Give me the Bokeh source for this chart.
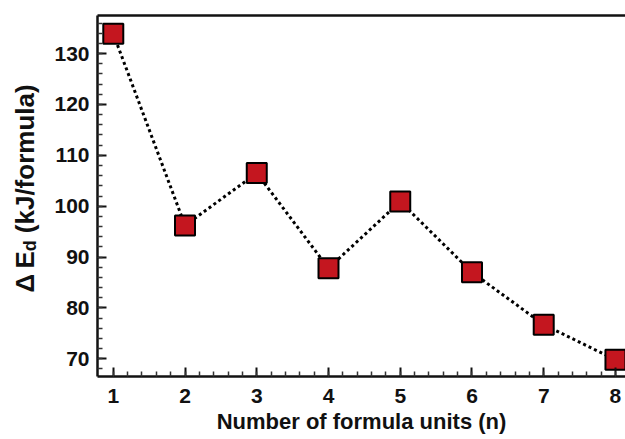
import math
from bokeh.plotting import figure
from bokeh.layouts import row
from bokeh.models import LinearAxis, FixedTicker, Range1d, Label
from bokeh.embed import file_html
from bokeh.resources import INLINE

# data
n_units = [1, 2, 3, 4, 5, 6, 7, 8]
delta_e = [133.9, 96.2, 106.5, 87.8, 100.9, 87.0, 76.7, 69.8]
x_ticks = [1, 2, 3, 4, 5, 6, 7, 8]
y_ticks = [70, 80, 90, 100, 110, 120, 130]

X0, X1 = 0.78, 8.14
Y0, Y1 = 66.5, 137.5
FONT = "Liberation Sans"
INK = "#111111"

LW = 50   # width of the y-label strip
H = 439
TOP = 15
BOT = 376

p = figure(width=625 - LW, height=H, output_backend="svg", toolbar_location=None,
           x_range=Range1d(X0, X1), y_range=Range1d(Y0, Y1),
           min_border_left=97 - LW, min_border_top=TOP, min_border_right=0,
           min_border_bottom=H - BOT)
p.outline_line_color = None
p.grid.visible = False

for ax in (p.xaxis[0], p.yaxis[0]):
    ax.axis_line_width = 2.5
    ax.axis_line_color = INK
    ax.major_tick_in = 9
    ax.major_tick_out = 0
    ax.minor_tick_in = 5
    ax.minor_tick_out = 0
    ax.major_tick_line_width = 2
    ax.minor_tick_line_width = 1.5
    ax.major_tick_line_color = INK
    ax.minor_tick_line_color = "#333333"
    ax.major_label_text_font = FONT
    ax.major_label_text_font_style = "bold"
    ax.major_label_text_font_size = "21px"
    ax.major_label_text_color = INK

p.xaxis[0].ticker = FixedTicker(ticks=x_ticks,
                                minor_ticks=[x / 5 for x in range(5, 41)])
p.yaxis[0].ticker = FixedTicker(ticks=y_ticks,
                                minor_ticks=list(range(68, 138, 2)))
p.xaxis[0].major_label_standoff = 12
p.yaxis[0].major_label_standoff = 8

p.xaxis[0].axis_label = "Number of formula units (n)"
p.xaxis[0].axis_label_text_font = FONT
p.xaxis[0].axis_label_text_font_style = "bold"
p.xaxis[0].axis_label_text_font_size = "22px"
p.xaxis[0].axis_label_text_color = INK
p.xaxis[0].axis_label_standoff = 3

top = LinearAxis(ticker=FixedTicker(ticks=[]), axis_line_width=2.5,
                 axis_line_color=INK, major_label_text_font_size="0px")
p.add_layout(top, "above")

p.line(n_units, delta_e, line_color="black", line_width=3, line_dash="3 3")
p.scatter(n_units, delta_e, marker="square", size=20, fill_color="#c4161f",
          line_color="black", line_width=2)

# y-axis label strip; its frame spans the same rows as the main frame,
# and its data coordinates are page pixels
q = figure(width=LW, height=H, output_backend="svg", toolbar_location=None,
           x_range=Range1d(0, LW), y_range=Range1d(BOT, TOP),
           min_border_left=0, min_border_right=0,
           min_border_top=TOP, min_border_bottom=H - BOT,
           x_axis_location=None, y_axis_location=None)
q.outline_line_color = None
q.grid.visible = False

F = 26
SUB = 18
start = 292
w1 = 1.589 * F
w2 = 0.611 * SUB
gap = 7
base_x = 24
q.add_layout(Label(x=base_x, y=start, text="Δ\u2009E", angle=math.pi / 2,
                   text_font=FONT, text_font_style="bold", text_font_size=f"{F}px",
                   text_align="left", text_baseline="alphabetic", text_color=INK))
q.add_layout(Label(x=base_x + 5, y=start - w1, text="d", angle=math.pi / 2,
                   text_font=FONT, text_font_style="bold", text_font_size=f"{SUB}px",
                   text_align="left", text_baseline="alphabetic", text_color=INK))
q.add_layout(Label(x=base_x, y=start - w1 - w2 - gap, text="(kJ/formula)",
                   angle=math.pi / 2,
                   text_font=FONT, text_font_style="bold", text_font_size=f"{F}px",
                   text_align="left", text_baseline="alphabetic", text_color=INK))

layout = row(q, p)
open("out.html", "w").write(file_html(layout, INLINE))
